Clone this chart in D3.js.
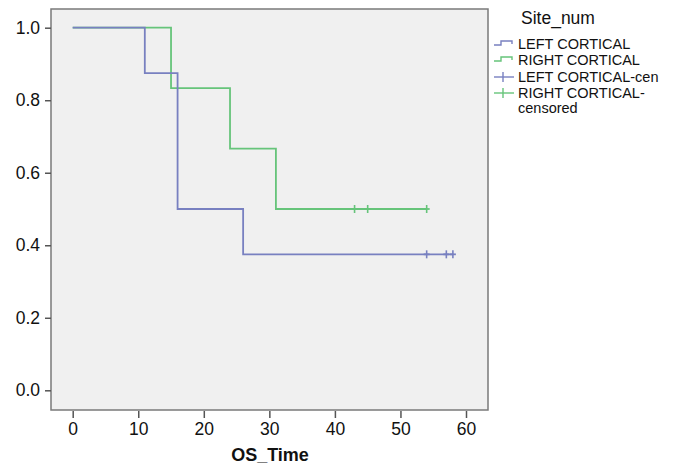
<!DOCTYPE html>
<html><head><meta charset="utf-8">
<script src="https://cdn.jsdelivr.net/npm/d3@7"></script>
<style>body{margin:0;background:#fff}svg{display:block}text{font-family:"Liberation Sans",Arial,Helvetica,sans-serif}</style>
</head><body><svg id="c" width="678" height="468"></svg>
<script>
// Kaplan-Meier data
const leftTimes = [0, 11, 16, 26, 58];
const leftSurv = [1.0, 0.875, 0.5, 0.375, 0.375];
const leftCensored = [54, 57, 58];
const rightTimes = [0, 15, 24, 31, 54];
const rightSurv = [1.0, 0.8333, 0.6667, 0.5, 0.5];
const rightCensored = [43, 45, 54];
const xTicks = [0, 10, 20, 30, 40, 50, 60];
const yTicks = [0.0, 0.2, 0.4, 0.6, 0.8, 1.0];
const legendLabels = ["LEFT CORTICAL", "RIGHT CORTICAL", "LEFT CORTICAL-cen", ["RIGHT CORTICAL-", "censored"]];

const blue = "#7880c0", green = "#66c47a";
const svg = d3.select("#c");
const L = 51, R = 488, T = 9, B = 410;
const x = d3.scaleLinear().domain([0, 60]).range([72.7, 466]);
const y = d3.scaleLinear().domain([0, 1]).range([390.3, 27.7]);

svg.append("rect").attr("x", L).attr("y", T).attr("width", R - L).attr("height", B - T)
  .attr("fill", "#f0f0f0").attr("stroke", "#7a7a7a").attr("stroke-width", 1.5);

// axes
const ya = svg.append("g").attr("transform", `translate(${L},0)`)
  .call(d3.axisLeft(y).tickValues(yTicks).tickFormat(d3.format(".1f")).tickSize(6).tickPadding(5));
const xa = svg.append("g").attr("transform", `translate(0,${B})`)
  .call(d3.axisBottom(x).tickValues(xTicks).tickSize(7).tickPadding(6));
[ya, xa].forEach(g => {
  g.select(".domain").remove();
  g.selectAll("line").attr("stroke", "#555").attr("stroke-width", 1.5);
  g.selectAll("text").attr("fill", "#111").attr("font-size", 17.5);
});
xa.selectAll("line").attr("transform", "translate(0,1)");

svg.append("text").attr("x", 270).attr("y", 461).attr("text-anchor", "middle")
  .attr("font-size", 18).attr("font-weight", "bold").attr("fill", "#111").text("OS_Time");

const line = d3.line().x(d => x(d[0])).y(d => y(d[1])).curve(d3.curveStepAfter);
function draw(times, surv, cens, color) {
  svg.append("path").datum(times.map((t, i) => [t, surv[i]])).attr("d", line)
    .attr("fill", "none").attr("stroke", color).attr("stroke-width", 1.8);
  const survAt = t => { let s = 1; times.forEach((tt, i) => { if (tt <= t) s = surv[i]; }); return s; };
  cens.forEach(t => {
    svg.append("line").attr("x1", x(t)).attr("x2", x(t)).attr("y1", y(survAt(t)) - 4).attr("y2", y(survAt(t)) + 4)
      .attr("stroke", color).attr("stroke-width", 1.6);
    svg.append("line").attr("x1", x(t) - 3).attr("x2", x(t) + 3).attr("y1", y(survAt(t))).attr("y2", y(survAt(t)))
      .attr("stroke", color).attr("stroke-width", 1.8);
  });
}
draw(rightTimes, rightSurv, rightCensored, green);
draw(leftTimes, leftSurv, leftCensored, blue);

// legend
svg.append("text").attr("x", 521).attr("y", 24).attr("font-size", 17.5).attr("fill", "#111").text("Site_num");
const ly = [49, 65, 82, 98];
const colors = [blue, green, blue, green];
legendLabels.forEach((lab, i) => {
  const yy = ly[i];
  const g = svg.append("g");
  if (i < 2) {
    g.append("path").attr("d", `M494,${yy - 4} H501 V${yy - 8} H512 V${yy - 5}`)
      .attr("fill", "none").attr("stroke", colors[i]).attr("stroke-width", 1.4);
  } else {
    g.append("line").attr("x1", 494).attr("x2", 514).attr("y1", yy - 5).attr("y2", yy - 5)
      .attr("stroke", colors[i]).attr("stroke-width", 1.4);
    g.append("line").attr("x1", 503).attr("x2", 503).attr("y1", yy - 10).attr("y2", yy)
      .attr("stroke", colors[i]).attr("stroke-width", 1.4);
  }
  const t = g.append("text").attr("x", 518).attr("y", yy).attr("font-size", 14.5).attr("fill", "#111");
  if (Array.isArray(lab)) {
    t.append("tspan").attr("x", 518).text(lab[0]);
    t.append("tspan").attr("x", 518).attr("dy", 15).text(lab[1]);
  } else t.text(lab);
});
</script></body></html>
